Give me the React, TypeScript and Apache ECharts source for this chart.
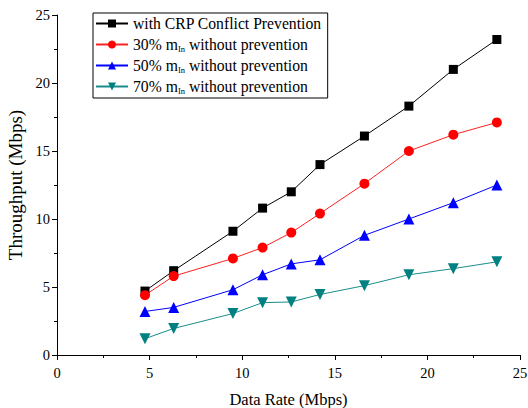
import React, { useEffect, useRef } from "react";
import * as echarts from "echarts";

const dataRate = [4.75, 6.3, 9.5, 11.1, 12.65, 14.2, 16.6, 19.0, 21.4, 23.75];
const withCRP = [4.7, 6.2, 9.1, 10.8, 12.0, 14.0, 16.1, 18.3, 21.0, 23.2];
const m30 = [4.4, 5.8, 7.1, 7.9, 9.0, 10.4, 12.6, 15.0, 16.2, 17.1];
const m50 = [3.2, 3.5, 4.8, 5.9, 6.7, 7.0, 8.8, 10.0, 11.2, 12.5];
const m70 = [1.2, 1.95, 3.05, 3.85, 3.9, 4.45, 5.1, 5.9, 6.35, 6.85];

const seriesNames = [
  "with CRP Conflict Prevention",
  "30% m_In without prevention",
  "50% m_In without prevention",
  "70% m_In without prevention",
];

const FONT = "'Liberation Serif', 'Times New Roman', serif";

export default function App() {
  const ref = useRef<HTMLDivElement>(null);
  useEffect(() => {
    const chart = echarts.init(ref.current!, null, { renderer: "svg" });
    const pair = (ys: number[]) => dataRate.map((x, i) => [x, ys[i]]);
    const mk = (
      name: string,
      ys: number[],
      color: string,
      lineColor: string,
      symbol: string,
      size: number,
      rotate = 0
    ) => ({
      name,
      type: "line",
      data: pair(ys),
      symbol,
      symbolSize: size,
      symbolRotate: rotate,
      showAllSymbol: true,
      itemStyle: { color, borderWidth: 0 },
      lineStyle: { color: lineColor, width: 1 },
      emphasis: { disabled: true },
    });
    chart.setOption({
      animation: false,
      backgroundColor: "#ffffff",
      textStyle: { fontFamily: FONT },
      grid: {
        left: 57,
        right: 8,
        top: 15,
        bottom: 53,
        containLabel: false,
        outerBoundsMode: "none",
      },
      legend: {
        orient: "vertical",
        left: 93,
        top: 13,
        padding: [2, 6, 3, 2],
        itemGap: 4,
        itemWidth: 32,
        itemHeight: 10,
        borderColor: "#000",
        borderWidth: 1,
        borderRadius: 0,
        data: seriesNames,
        formatter: (name: string) => name.replace("m_In", "m{sub|In}"),
        textStyle: {
          fontFamily: FONT,
          fontSize: 15.7,
          color: "#000",
          lineHeight: 17,
          rich: {
            sub: {
              fontFamily: FONT,
              fontSize: 8.5,
              lineHeight: 17,
              verticalAlign: "bottom",
              color: "#000",
            },
          },
        },
      },
      xAxis: {
        type: "value",
        min: 0,
        max: 25,
        interval: 5,
        name: "Data Rate (Mbps)",
        nameLocation: "middle",
        nameGap: 36,
        nameTextStyle: { fontFamily: FONT, fontSize: 16.5, color: "#000" },
        axisLine: { show: true, onZero: false, lineStyle: { color: "#000", width: 1 } },
        axisTick: { show: true, inside: false, length: 5, lineStyle: { color: "#000" } },
        minorTick: { show: true, splitNumber: 2, length: 3, lineStyle: { color: "#000" } },
        axisLabel: { fontFamily: FONT, fontSize: 14.5, color: "#000", margin: 10 },
        splitLine: { show: false },
      },
      yAxis: {
        type: "value",
        min: 0,
        max: 25,
        interval: 5,
        name: "Throughput (Mbps)",
        nameLocation: "middle",
        nameGap: 30,
        nameTextStyle: { fontFamily: FONT, fontSize: 19, color: "#000" },
        axisLine: { show: true, onZero: false, lineStyle: { color: "#000", width: 1 } },
        axisTick: { show: true, inside: false, length: 5, lineStyle: { color: "#000" } },
        minorTick: { show: true, splitNumber: 2, length: 3, lineStyle: { color: "#000" } },
        axisLabel: { fontFamily: FONT, fontSize: 14.5, color: "#000", margin: 7 },
        splitLine: { show: false },
      },
      series: [
        mk(seriesNames[0], withCRP, "#000000", "#000000", "rect", 9),
        mk(seriesNames[1], m30, "#ff0000", "#ff2020", "circle", 10),
        mk(seriesNames[2], m50, "#0000ff", "#0000ff", "triangle", 11),
        mk(seriesNames[3], m70, "#008080", "#1a8c8c", "triangle", 11, 180),
      ],
    });
    return () => chart.dispose();
  }, []);
  return (
    <div
      ref={ref}
      style={{ position: "absolute", left: 0, top: 0, width: 528, height: 408 }}
    />
  );
}
